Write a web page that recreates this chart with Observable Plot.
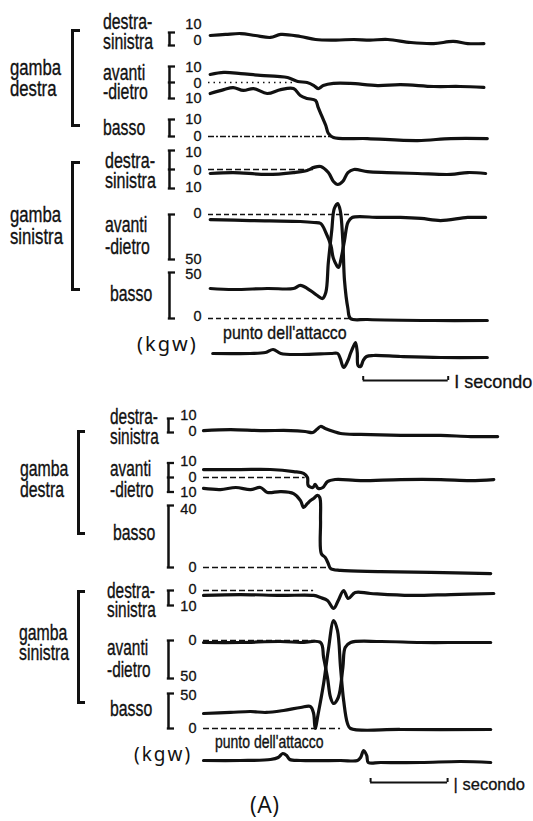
<!DOCTYPE html>
<html><head><meta charset="utf-8">
<script src="https://cdn.jsdelivr.net/npm/d3@7"></script>
<script src="https://cdn.jsdelivr.net/npm/@observablehq/plot@0.6"></script>
<style>
body{margin:0;background:#fff;}
#fig{position:relative;width:533px;height:821px;overflow:hidden;background:#fff;font-family:"Liberation Sans",Arial,sans-serif;color:#111;}
#fig svg{position:absolute;left:0;top:0;background:none !important;}
.lab{position:absolute;white-space:pre;font-size:22px;transform-origin:0 50%;color:#111;-webkit-text-stroke:0.35px #111;}
.brk{position:absolute;border:3px solid #111;border-right:none;box-sizing:border-box;}
</style>
</head><body>
<div id="fig"></div>
<script>
// ---------- DATA (time in seconds, force in kgw; attack signal in arbitrary units) ----------
// Upper recording
const tRdsT = [0.02,0.2,0.38,0.55,0.73,0.85,1.08,1.26,1.5,1.71,1.9,2.11,2.38,2.65,2.88,3.05,3.24];
const tRdsV = [7.7,8.5,9.2,7.7,6.2,8.5,6.9,4.6,4.2,4.6,4.2,4.6,2.3,1.5,3.1,1.5,1.5];
const tRadT = [0.02,0.18,0.38,0.61,0.81,0.93,1.05,1.16,1.24,1.29,1.35,1.47,1.67,1.99,2.26,2.65,2.96,3.24];
const tRadV = [5,6.3,5.6,4.4,3.8,3.1,0.6,0,-1.9,-3.8,-1.9,-0.6,-0.6,-1.9,-1.3,-2.5,-2.5,-3.1];
const tRbT = [0.02,0.18,0.29,0.41,0.53,0.69,0.85,1.0,1.08,1.16,1.26,1.29,1.34,1.38,1.41,1.47,1.87,2.46,2.85,3.28];
const tRbV = [25.3,27.6,28.8,27.1,28.2,25.3,27.6,28.2,24.1,22.4,21.2,17.1,11.2,6.5,1.8,-0.6,-1.2,-2.4,-1.2,-1.2];
const tLdsT = [0.02,0.29,0.69,1.0,1.16,1.24,1.32,1.41,1.47,1.52,1.58,1.64,1.71,1.87,2.1,2.46,2.85,3.05,3.26];
const tLdsV = [-2.1,-1.6,-2.6,-1.6,-0.5,1.1,1.6,-1.6,-6.3,-7.9,-6.3,-1.6,0,-1.1,-1.6,-2.1,-2.6,-1.6,-2.1];
const tLadT = [0.02,0.49,1.08,1.24,1.32,1.38,1.44,1.47,1.53,1.56,1.6,1.64,1.69,2.0,2.26,2.5,2.73,3.05,3.26];
const tLadV = [-5.6,-6.7,-7.8,-8.9,-10,-20,-34.4,-48.9,-58.9,-48.9,-28.9,-8.9,-3.3,-3.3,-3.3,-4.4,-6.7,-3.3,-3.3];
const tLbT = [0.02,0.29,0.69,1.0,1.08,1.2,1.28,1.34,1.38,1.41,1.45,1.48,1.52,1.55,1.58,1.6,1.64,1.67,1.87,2.65,3.28];
const tLbV = [32.6,31.5,32.6,32.6,35.9,30.4,25,21.7,28.3,60.9,95.7,119.6,125,117.4,84.8,41.3,10.9,0,-1.1,-2.2,-2.2];
const tAttT = [0.05,0.49,0.67,0.76,0.85,1.08,1.44,1.52,1.55,1.59,1.64,1.67,1.71,1.73,1.75,1.76,1.79,1.82,1.86,1.94,2.26,2.73,3.28];
const tAttV = [0,0,1,4,0,-1,0,0,-5,-14,-7,0,8,11,1,-12,-13,-7,-3,-2,-3,-4,-4];
// Lower recording
const bRdsT = [0,0.35,0.74,1.13,1.32,1.42,1.47,1.52,1.58,1.69,1.78,2.04,2.56,3.08,3.47,3.82];
const bRdsV = [1.4,2.1,1.4,1.4,0.7,0,2.1,4.3,2.9,0.7,-0.7,-1.4,-2.1,-2.1,-2.9,-2.9];
const bRadT = [0,0.48,0.87,1.17,1.3,1.35,1.36,1.42,1.45,1.49,1.55,1.61,1.71,2.04,2.56,3.08,3.47,3.77];
const bRadV = [5.5,5.5,5.5,4.1,2.8,0,-5.5,-6.9,-4.8,-7.6,-6.9,-2.8,-1.4,-2.1,-1.4,-1.4,-2.1,-1.4];
const bRbT = [0,0.22,0.42,0.61,0.74,0.83,1.0,1.17,1.26,1.3,1.35,1.39,1.43,1.48,1.51,1.52,1.53,1.58,1.62,1.65,1.78,2.3,2.95,3.73];
const bRbV = [51,50.3,51.6,50.3,51.6,48.4,49,47.7,43.2,38.7,41.3,43.2,44.5,46.5,45.2,30.3,9,6.5,2.6,-0.6,-1.9,-2.6,-3.2,-3.9];
const bLdsT = [0,0.48,1.0,1.43,1.52,1.61,1.69,1.75,1.82,1.88,1.97,2.17,2.69,3.21,3.77];
const bLdsV = [-3.3,-2.7,-3.3,-3.3,-4.7,-6.7,-12,-6.7,0,-5.3,-1.3,-2,-3.3,-2.7,-2];
const bLadT = [0,0.48,1.0,1.26,1.52,1.56,1.61,1.65,1.69,1.75,1.81,1.84,1.91,2.3,2.82,3.34,3.73];
const bLadV = [-2.6,-2.6,-1.3,-2.6,-2.6,-22.4,-48.7,-75,-82.9,-75,-35.5,-9.2,-2.6,-1.3,-2.6,-2.6,-2.6];
const bLbT = [0,0.35,0.61,0.81,1.04,1.26,1.39,1.43,1.45,1.49,1.56,1.62,1.69,1.74,1.78,1.82,1.87,1.91,2.56,3.73];
const bLbV = [21.4,22.9,24.3,22.9,25.7,30,31.4,21.4,0,21.4,64.3,111.4,154.3,140,87.1,40,7.1,0,-1.4,-1.4];
const bAttT = [0,0.48,0.87,0.97,1.03,1.08,1.12,1.26,1.78,2.0,2.04,2.08,2.12,2.14,2.3,2.82,3.34,3.73];
const bAttV = [0,0,1,3,7,5,1,0,0,0,3,10,5,-2,-2,-2,-1,-2];
// scale ticks (kgw) and time-bar start (s)
const tTicks = {rds:[10,0], rad:[10,0,-10], rb:[10,0], lds:[10,0,-10], lad:[0,-50], lb:[50,0]};
const bTicks = {rds:[10,0], rad:[10,0,-10], rb:[40,0], lds:[0,-10], lad:[0,-50], lb:[50,0]};
const barStart = {top:1.82, bottom:2.17};
const barLabel = {top:"I secondo", bottom:"| secondo"};

// ---------- LAYOUT ----------
const W = 533, H = 821;
const fig = document.getElementById("fig");
const panels = {
  top:    {x0:208, pps:85, T:3.3, bx:169, serif:6, labRight:201, barLevel:-27},
  bottom: {x0:203, pps:77, T:3.85, bx:168, serif:6, labRight:196, barLevel:-22}
};
const channels = [
  {p:"top", t:tRdsT, v:tRdsV, zeroY:45, k:1.3, ticks:tTicks.rds, dy:[-8,-5]},
  {p:"top", t:tRadT, v:tRadV, zeroY:82, k:1.6, ticks:tTicks.rad, dy:[1,1,0], zeroTo:1.0, dash:"1.5,4"},
  {p:"top", t:tRbT, v:tRbV, zeroY:136, k:1.7, ticks:tTicks.rb, dy:[0,0], zeroTo:1.45, dash:"6,2,2,2"},
  {p:"top", t:tLdsT, v:tLdsV, zeroY:169, k:1.9, ticks:tTicks.lds, dy:[2,1,-1], zeroTo:1.25, dash:"6,3"},
  {p:"top", t:tLadT, v:tLadV, zeroY:214, k:0.9, ticks:tTicks.lad, dy:[-1,0], zeroTo:1.69, dash:"5,3"},
  {p:"top", t:tLbT, v:tLbV, zeroY:318, k:0.92, ticks:tTicks.lb, dy:[2,-2], zeroTo:1.67, dash:"5,3"},
  {p:"top", t:tAttT, v:tAttV, zeroY:353, k:1, attack:true},
  {p:"bottom", t:bRdsT, v:bRdsV, zeroY:432, k:1.4, ticks:bTicks.rds, dy:[-3,-1]},
  {p:"bottom", t:bRadT, v:bRadV, zeroY:477, k:1.45, ticks:bTicks.rad, dy:[-2,0,0], zeroTo:1.32, dash:"6,3"},
  {p:"bottom", t:bRbT, v:bRbV, zeroY:567, k:1.55, ticks:bTicks.rb, dy:[4,0], zeroTo:1.65, dash:"6,3"},
  {p:"bottom", t:bLdsT, v:bLdsV, zeroY:590, k:1.5, ticks:bTicks.lds, dy:[-1,1], zeroTo:1.43, dash:"6,3"},
  {p:"bottom", t:bLadT, v:bLadV, zeroY:640, k:0.76, ticks:bTicks.lad, dy:[0,-2], zeroTo:1.45, dash:"6,3"},
  {p:"bottom", t:bLbT, v:bLbV, zeroY:728, k:0.7, ticks:bTicks.lb, dy:[2,0], zeroTo:1.78, dash:"6,3"},
  {p:"bottom", t:bAttT, v:bAttV, zeroY:760, k:1, attack:true}
];
const INK = "#111";

for (const ch of channels) {
  const P = panels[ch.p];
  const data = ch.t.map((t, i) => ({t, v: ch.v[i]}));
  const marks = [];
  if (ch.zeroTo) marks.push(Plot.ruleY([0], {x1: 0, x2: ch.zeroTo, stroke: INK, strokeWidth: 1.3, strokeDasharray: ch.dash}));
  marks.push(Plot.line(data, {x: "t", y: "v", stroke: INK, strokeWidth: 3.2, curve: "catmull-rom", strokeLinejoin: "round", strokeLinecap: "round"}));
  if (ch.ticks) {
    const hi = d3.max(ch.ticks), lo = d3.min(ch.ticks);
    marks.push(Plot.ruleX([0], {x: d => d, dx: P.bx - P.x0, y1: () => hi, y2: () => lo, stroke: INK, strokeWidth: 2.5}));
    marks.push(Plot.ruleY(ch.ticks, {y: d => d, insetLeft: P.bx - 1.2, insetRight: W - P.bx - P.serif, stroke: INK, strokeWidth: 2.3}));
    ch.ticks.forEach((tk, i) => marks.push(Plot.text([tk], {
      y: d => d, text: d => String(Math.abs(d)), frameAnchor: "left", dx: P.labRight, dy: ch.dy[i],
      textAnchor: "end", fontSize: 14.5, fontFamily: "Liberation Sans, Arial, sans-serif", fill: INK,
      stroke: INK, strokeWidth: 0.3
    })));
  }
  if (ch.attack) {
    const s = barStart[ch.p], L = P.barLevel;
    marks.push(Plot.ruleY([L], {x1: s, x2: s + 1, stroke: INK, strokeWidth: 2}));
    marks.push(Plot.ruleX([s, s + 1], {x: d => d, y1: () => L, y2: () => L + 4, stroke: INK, strokeWidth: 2}));
    marks.push(Plot.text([barLabel[ch.p]], {x: () => s + 1, y: () => L - 2, text: d => d, dx: 6, textAnchor: "start",
      fontSize: ch.p === "top" ? 18 : 16.5, fontFamily: "Liberation Sans, Arial, sans-serif", fill: INK,
      stroke: INK, strokeWidth: 0.3}));
  }
  const svg = Plot.plot({
    width: W, height: H, margin: 0,
    x: {domain: [0, P.T], range: [P.x0, P.x0 + P.T * P.pps], axis: null},
    y: {domain: [0, 10], range: [ch.zeroY, ch.zeroY - 10 * ch.k], axis: null},
    marks
  });
  svg.style.background = "none";
  fig.appendChild(svg);
}

// ---------- TEXT LABELS & GROUP BRACKETS ----------
const labels = [
  {s:"gamba\ndestra", x:10, y:78, lh:21, sx:0.76},
  {s:"gamba\nsinistra", x:10, y:226, lh:22, sx:0.76},
  {s:"destra-\nsinistra", x:103, y:32, lh:20, sx:0.72},
  {s:"avanti\n-dietro", x:103, y:81.5, lh:19, sx:0.72},
  {s:"basso", x:103, y:128, lh:20, sx:0.72},
  {s:"destra-\nsinistra", x:105, y:171, lh:20, sx:0.73},
  {s:"avanti\n-dietro", x:105, y:236, lh:22, sx:0.72},
  {s:"basso", x:110, y:294, lh:20, sx:0.72},
  {s:"punto dell'attacco", x:223, y:333, lh:20, sx:0.84, fs:19},
  {s:"destra-\nsinistra", x:110, y:427, lh:20, sx:0.7},
  {s:"gamba\ndestra", x:20, y:478.5, lh:21, sx:0.72},
  {s:"avanti\n-dietro", x:110, y:478.5, lh:21, sx:0.7},
  {s:"basso", x:113, y:533, lh:20, sx:0.72},
  {s:"destra-\nsinistra", x:107, y:599.5, lh:19, sx:0.7},
  {s:"gamba\nsinistra", x:19, y:643, lh:20, sx:0.72},
  {s:"avanti\n-dietro", x:107, y:659, lh:22, sx:0.7},
  {s:"basso", x:110, y:709, lh:20, sx:0.72},
  {s:"punto dell'attacco", x:215, y:742, lh:20, sx:0.8, fs:17.5}
];
for (const L of labels) {
  const d = document.createElement("div");
  d.className = "lab";
  d.textContent = L.s;
  d.style.left = L.x + "px";
  d.style.top = L.y + "px";
  d.style.lineHeight = L.lh + "px";
  if (L.fs) d.style.fontSize = L.fs + "px";
  d.style.transform = `translateY(-50%) scaleX(${L.sx})`;
  fig.appendChild(d);
}
const plain = [
  {s:"(kgw)", x:137, y:344, fs:20, ff:"'Noto Sans', sans-serif", ls:2},
  {s:"(kgw)", x:134, y:754, fs:19, ff:"'Noto Sans', sans-serif", ls:2},
  {s:"(A)", x:250, y:804, fs:23, ff:"'Open Sans', sans-serif", ls:0.5}
];
for (const L of plain) {
  const d = document.createElement("div");
  d.className = "lab";
  d.textContent = L.s;
  Object.assign(d.style, {left: L.x + "px", top: L.y + "px", fontSize: L.fs + "px", fontFamily: L.ff,
    letterSpacing: L.ls + "px", lineHeight: "1", transform: "translateY(-50%)", webkitTextStroke: "0px"});
  fig.appendChild(d);
}
const groups = [
  {x:71, y0:29, y1:127, w:9},
  {x:71, y0:161, y1:291, w:9},
  {x:77, y0:430, y1:535, w:8},
  {x:77, y0:590, y1:704, w:8}
];
for (const g of groups) {
  const d = document.createElement("div");
  d.className = "brk";
  Object.assign(d.style, {left: g.x + "px", top: g.y0 + "px", height: (g.y1 - g.y0) + "px", width: g.w + "px"});
  fig.appendChild(d);
}
</script>
</body></html>
